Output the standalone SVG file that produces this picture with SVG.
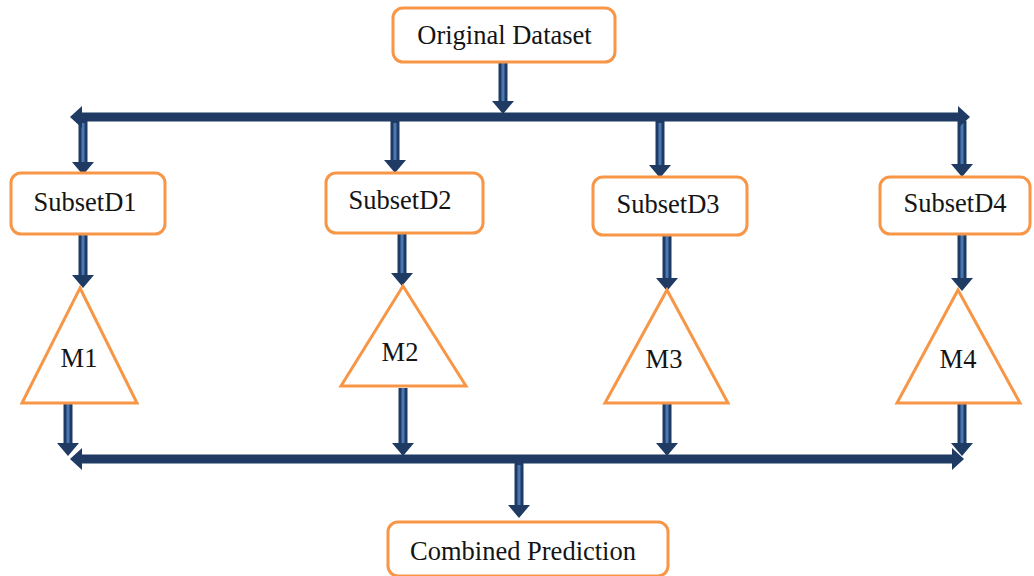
<svg xmlns="http://www.w3.org/2000/svg" width="1034" height="576" viewBox="0 0 1034 576">
<style>
.box{fill:#fff;stroke:#f79646;stroke-width:3}
.tri{fill:#fff;stroke:#f79646;stroke-width:3;stroke-linejoin:miter}
.lbl{font-family:"Liberation Serif","Times New Roman",serif;font-size:26.5px;fill:#141414;text-anchor:middle}
.so{fill:none;stroke:#1f3a63;stroke-width:9}
.si{fill:none;stroke:#4a78b5;stroke-width:3}
.hd{fill:#1f3a63}
</style>
<rect width="1034" height="576" fill="#fff"/>
<g id="connectors">
<g class="so">
<path d="M503 63V102"/>
<path d="M80 117H960"/>
<path d="M83 121V163"/><path d="M395 121V161"/><path d="M660 121V166"/><path d="M962 121V165"/>
<path d="M83 235V276"/><path d="M402 234V274"/><path d="M667 236V279"/><path d="M962 235V279"/>
<path d="M68 404V444"/><path d="M403 388V444"/><path d="M667 404V444"/><path d="M962 404V444"/>
<path d="M80 459H953"/>
<path d="M519 463V506"/>
</g>
<g class="si">
<path d="M503 63V102"/>
<path d="M83 123V163"/><path d="M395 123V161"/><path d="M660 123V166"/><path d="M962 123V165"/>
<path d="M83 235V276"/><path d="M402 234V274"/><path d="M667 236V279"/><path d="M962 235V279"/>
<path d="M68 404V444"/><path d="M403 388V444"/><path d="M667 404V444"/><path d="M962 404V444"/>
<path d="M519 465V506"/>
</g>
<g class="hd">
<polygon points="492,101 514,101 503,114"/>
<polygon points="82,106 82,128 70,117"/>
<polygon points="958,106 958,128 970,117"/>
<polygon points="72,162 94,162 83,175"/>
<polygon points="384,160 406,160 395,173"/>
<polygon points="649,165 671,165 660,178"/>
<polygon points="951,164 973,164 962,177"/>
<polygon points="72,275 94,275 83,288"/>
<polygon points="391,273 413,273 402,286"/>
<polygon points="656,278 678,278 667,291"/>
<polygon points="951,278 973,278 962,291"/>
<polygon points="57,443 79,443 68,456"/>
<polygon points="392,443 414,443 403,456"/>
<polygon points="656,443 678,443 667,456"/>
<polygon points="951,443 973,443 962,456"/>
<polygon points="82,448 82,470 70,459"/>
<polygon points="952,448 952,470 964,459"/>
<polygon points="508,505 530,505 519,518"/>
</g>
</g>
<g id="original"><rect class="box" x="393" y="8" width="222" height="54" rx="10"/><text class="lbl" x="504.5" y="44">Original Dataset</text></g>
<g id="d1"><rect class="box" x="11" y="173" width="154" height="61" rx="10"/><text class="lbl" x="85" y="211">SubsetD1</text></g>
<g id="d2"><rect class="box" x="326" y="173" width="157" height="60" rx="10"/><text class="lbl" x="400" y="209">SubsetD2</text></g>
<g id="d3"><rect class="box" x="593" y="177" width="154" height="58" rx="10"/><text class="lbl" x="668" y="213">SubsetD3</text></g>
<g id="d4"><rect class="box" x="880" y="177" width="150" height="57" rx="10"/><text class="lbl" x="955" y="212">SubsetD4</text></g>
<g id="m1"><polygon class="tri" points="80,288 137,403 22,403"/><text class="lbl" x="79" y="367">M1</text></g>
<g id="m2"><polygon class="tri" points="403,286 466,386 341,386"/><text class="lbl" x="400" y="361">M2</text></g>
<g id="m3"><polygon class="tri" points="667,290 728,403 605,403"/><text class="lbl" x="664" y="368">M3</text></g>
<g id="m4"><polygon class="tri" points="958,290 1020,403 897,403"/><text class="lbl" x="958" y="368">M4</text></g>
<g id="combined"><rect class="box" x="388" y="522" width="280" height="54" rx="10"/><text class="lbl" x="523" y="560">Combined Prediction</text></g>
</svg>
